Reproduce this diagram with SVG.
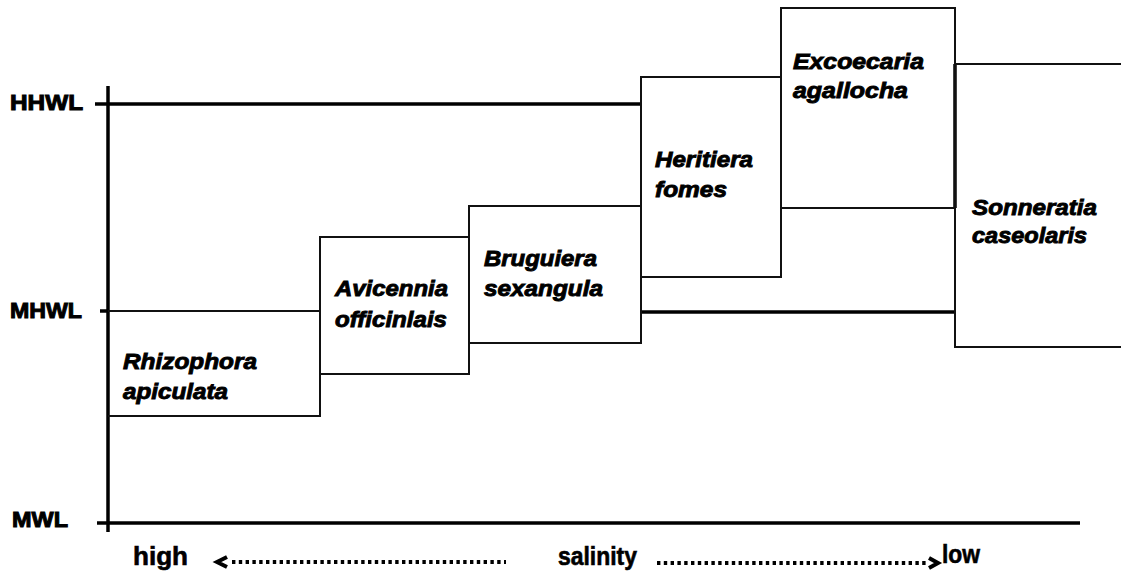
<svg xmlns="http://www.w3.org/2000/svg" width="1121" height="574" viewBox="0 0 1121 574">
<style>
.box{fill:none;stroke:#111;stroke-width:2}
.thick{stroke:#000;stroke-width:3.5;fill:none}
.thin{stroke:#111;stroke-width:2;fill:none}
.sp{font-family:"Liberation Sans",Arial,sans-serif;font-weight:bold;font-style:italic;font-size:21.5px;fill:#000;stroke:#000;stroke-width:0.9}
.ax{font-family:"Liberation Sans",Arial,sans-serif;font-weight:bold;font-size:21.5px;fill:#000;stroke:#000;stroke-width:1}
.sal{font-family:"Liberation Sans",Arial,sans-serif;font-weight:bold;font-size:25px;fill:#000;stroke:#000;stroke-width:0.6}
.dot{stroke:#000;stroke-width:4;stroke-dasharray:3.4 3.4;fill:none}
.chev{stroke:#000;stroke-width:4;fill:none}
</style>
<rect width="1121" height="574" fill="#fff"/>
<g id="connectors">
<line class="thick" x1="108" y1="86" x2="108" y2="532" stroke="#1a2232"/>
<line class="thick" x1="97" y1="523" x2="1080" y2="523"/>
<line class="thick" x1="95" y1="104" x2="641" y2="104"/>
<line class="thick" x1="100" y1="311" x2="108" y2="311"/>
<line class="thin" x1="108" y1="311" x2="320" y2="311"/>
<line class="thick" x1="641" y1="312" x2="955" y2="312"/>
<line class="thick" x1="955" y1="64" x2="955" y2="208"/>
<line class="dot" x1="232" y1="562" x2="506" y2="562"/>
<line class="dot" x1="657" y1="563" x2="928" y2="563"/>
<polyline class="chev" points="227,557 217,562 227,567"/>
<polyline class="chev" points="929,558 938,563 929,568"/>
</g>
<g id="rhizophora">
<polyline class="box" points="108,311 320,311 320,416 108,416"/>
<text class="sp" x="123" y="369" textLength="134" lengthAdjust="spacingAndGlyphs">Rhizophora</text>
<text class="sp" x="123" y="399" textLength="105" lengthAdjust="spacingAndGlyphs">apiculata</text>
</g>
<g id="avicennia">
<rect class="box" x="320" y="237" width="149" height="137"/>
<text class="sp" x="335" y="296" textLength="113" lengthAdjust="spacingAndGlyphs">Avicennia</text>
<text class="sp" x="335" y="327" textLength="112" lengthAdjust="spacingAndGlyphs">officinlais</text>
</g>
<g id="bruguiera">
<rect class="box" x="469" y="206" width="172" height="137"/>
<text class="sp" x="484" y="266" textLength="113" lengthAdjust="spacingAndGlyphs">Bruguiera</text>
<text class="sp" x="484" y="296" textLength="119" lengthAdjust="spacingAndGlyphs">sexangula</text>
</g>
<g id="heritiera">
<rect class="box" x="641" y="77" width="140" height="200"/>
<text class="sp" x="655" y="167" textLength="98" lengthAdjust="spacingAndGlyphs">Heritiera</text>
<text class="sp" x="655" y="197" textLength="72" lengthAdjust="spacingAndGlyphs">fomes</text>
</g>
<g id="excoecaria">
<rect class="box" x="781" y="8" width="174" height="200"/>
<text class="sp" x="793" y="69" textLength="131" lengthAdjust="spacingAndGlyphs">Excoecaria</text>
<text class="sp" x="793" y="98" textLength="115" lengthAdjust="spacingAndGlyphs">agallocha</text>
</g>
<g id="sonneratia">
<polyline class="box" points="1121,64 955,64 955,347 1121,347"/>
<text class="sp" x="972" y="215" textLength="125" lengthAdjust="spacingAndGlyphs">Sonneratia</text>
<text class="sp" x="972" y="243" textLength="115" lengthAdjust="spacingAndGlyphs">caseolaris</text>
</g>
<g id="labels">
<text class="ax" x="10" y="110" textLength="73" lengthAdjust="spacingAndGlyphs">HHWL</text>
<text class="ax" x="10" y="318" textLength="72" lengthAdjust="spacingAndGlyphs">MHWL</text>
<text class="ax" x="12" y="527" textLength="56" lengthAdjust="spacingAndGlyphs">MWL</text>
<text class="sal" x="133" y="565" textLength="55" lengthAdjust="spacingAndGlyphs">high</text>
<text class="sal" x="558" y="565" textLength="79" lengthAdjust="spacingAndGlyphs">salinity</text>
<text class="sal" x="942" y="563" textLength="38" lengthAdjust="spacingAndGlyphs">low</text>
</g>
</svg>
